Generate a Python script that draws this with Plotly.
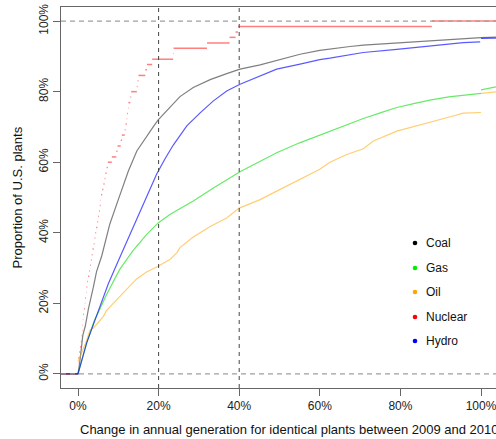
import plotly.graph_objects as go

# ---------------- data ----------------
series_names = ["Coal", "Gas", "Oil", "Nuclear", "Hydro"]

coal_x = [-0.06, 0.0, 0.004, 0.008, 0.012, 0.018, 0.026, 0.038, 0.046, 0.059, 0.071, 0.079,
          0.100, 0.125, 0.146, 0.170, 0.187, 0.199, 0.228, 0.253, 0.286, 0.328, 0.369, 0.402,
          0.452, 0.493, 0.551, 0.600, 0.625, 0.675, 0.708, 0.790, 0.873, 0.955, 1.000, 1.04]
coal_y = [0.0, 0.0, 0.03, 0.075, 0.11, 0.135, 0.185, 0.245, 0.29, 0.335, 0.39, 0.425,
          0.494, 0.575, 0.632, 0.674, 0.701, 0.72, 0.757, 0.786, 0.812, 0.834, 0.851, 0.864,
          0.876, 0.889, 0.906, 0.917, 0.921, 0.928, 0.932, 0.938, 0.944, 0.951, 0.953, 0.955]

gas_x = [-0.06, 0.0, 0.0215, 0.04, 0.063, 0.071, 0.096, 0.104, 0.137, 0.146, 0.170, 0.199,
         0.228, 0.286, 0.340, 0.402, 0.452, 0.493, 0.550, 0.625, 0.667, 0.708, 0.750, 0.791,
         0.833, 0.873, 0.920, 0.973, 1.0, None, 1.0, 1.02, 1.04]
gas_y = [0.0, 0.0, 0.087, 0.15, 0.205, 0.225, 0.28, 0.297, 0.35, 0.363, 0.395, 0.428,
         0.452, 0.49, 0.53, 0.573, 0.603, 0.627, 0.655, 0.688, 0.706, 0.724, 0.740, 0.755,
         0.766, 0.776, 0.785, 0.793, 0.795, None, 0.805, 0.809, 0.814]

oil_x = [-0.06, 0.0, None, 0.0, 0.01, 0.02, 0.03, 0.038, 0.05, 0.063, 0.071, 0.104, 0.121,
         0.146, 0.170, 0.199, 0.228, 0.245, 0.253, 0.286, 0.328, 0.369, 0.400, 0.452, 0.493,
         0.551, 0.600, 0.625, 0.667, 0.708, 0.733, 0.791, 0.873, 0.931, 0.956, 1.0, None, 1.0, 1.04]
oil_y = [0.0, 0.0, None, 0.035, 0.06, 0.09, 0.125, 0.13, 0.145, 0.163, 0.18, 0.22, 0.239,
         0.27, 0.289, 0.305, 0.324, 0.343, 0.358, 0.388, 0.418, 0.442, 0.47, 0.494, 0.518,
         0.551, 0.58, 0.60, 0.622, 0.638, 0.66, 0.688, 0.712, 0.731, 0.739, 0.741, None, 0.795, 0.7995]

hydro_x = [-0.06, 0.0, 0.0215, 0.03, 0.055, 0.075, 0.096, 0.121, 0.137, 0.162,
           0.195, 0.216, 0.236, 0.270, 0.303, 0.336, 0.369, 0.402, 0.452, 0.493,
           0.551, 0.600, 0.625, 0.708, 0.791, 0.873, 0.956, 0.998, None, 1.0, 1.04]
hydro_y = [0.0, 0.0, 0.088, 0.115, 0.195, 0.255, 0.31, 0.375, 0.415, 0.48,
           0.566, 0.61, 0.648, 0.703, 0.74, 0.774, 0.802, 0.821, 0.845, 0.864,
           0.878, 0.891, 0.895, 0.911, 0.92, 0.930, 0.939, 0.941, None, 0.951, 0.952]

# nuclear: step start positions and step levels (ECDF drawn without verticals)
nuclear_x = [0.0, 0.0, 0.001, 0.003, 0.005, 0.007, 0.009, 0.010, 0.011, 0.012, 0.013, 0.015,
             0.017, 0.018, 0.020, 0.021, 0.023, 0.025, 0.028, 0.030, 0.032, 0.034, 0.036, 0.039,
             0.041, 0.043, 0.045, 0.048, 0.050, 0.052, 0.054, 0.056, 0.057, 0.060, 0.063, 0.066,
             0.068, 0.071, 0.074, 0.084, 0.095, 0.098, 0.106, 0.109, 0.116, 0.118, 0.121, 0.122,
             0.124, 0.125, 0.130, 0.132, 0.146, 0.148, 0.150, 0.167, 0.171, 0.184, 0.236, 0.237,
             0.320, 0.376, 0.391, 0.397, 0.878]
nuclear_y = [0.015, 0.031, 0.046, 0.062, 0.077, 0.092, 0.108, 0.123, 0.138, 0.154, 0.169, 0.185,
             0.200, 0.215, 0.231, 0.246, 0.262, 0.277, 0.292, 0.308, 0.323, 0.338, 0.354, 0.369,
             0.385, 0.400, 0.415, 0.431, 0.446, 0.462, 0.477, 0.492, 0.508, 0.523, 0.538, 0.554,
             0.569, 0.585, 0.600, 0.615, 0.631, 0.646, 0.662, 0.677, 0.692, 0.708, 0.723, 0.738,
             0.754, 0.769, 0.785, 0.800, 0.815, 0.831, 0.846, 0.862, 0.877, 0.892, 0.908, 0.923,
             0.938, 0.954, 0.969, 0.985, 1.000]

x_ticks = [0, 0.2, 0.4, 0.6, 0.8, 1.0]
x_ticklabels = ["0%", "20%", "40%", "60%", "80%", "100%"]
y_ticks = [0, 0.2, 0.4, 0.6, 0.8, 1.0]
y_ticklabels = ["0%", "20%", "40%", "60%", "80%", "100%"]
ref_v = [0.2, 0.4]
ref_h = [0.0, 1.0]

# ---------------- styling ----------------
line_colors = {
    "Coal": "rgba(0,0,0,0.5)",
    "Gas": "rgba(0,220,0,0.6)",
    "Oil": "rgba(255,165,0,0.55)",
    "Nuclear": "rgba(255,0,0,0.5)",
    "Hydro": "rgba(0,0,255,0.65)",
}
dot_colors = {"Coal": "#000000", "Gas": "#00ee00", "Oil": "#ffa500",
              "Nuclear": "#ff0000", "Hydro": "#0000ff"}
FONT = "Liberation Sans, Arial, sans-serif"

W, H = 496, 439
ML, MT, MR, MB = 61, 7, 0, 51

fig = go.Figure()

data_map = {"Coal": (coal_x, coal_y), "Gas": (gas_x, gas_y), "Oil": (oil_x, oil_y)}
for name in ["Coal", "Gas", "Oil"]:
    xs, ys = data_map[name]
    fig.add_trace(go.Scatter(x=xs, y=ys, mode="lines", name=name, showlegend=False,
                             line=dict(color=line_colors[name], width=1.2), hoverinfo="skip"))

# nuclear: horizontal segments only
nx, ny = [-0.06, 0.0, None], [0.0, 0.0, None]
for i in range(len(nuclear_x)):
    x0 = nuclear_x[i]
    x1 = nuclear_x[i + 1] if i + 1 < len(nuclear_x) else 1.2
    nx += [x0, x1, None]
    ny += [nuclear_y[i], nuclear_y[i], None]
fig.add_trace(go.Scatter(x=nx, y=ny, mode="lines", name="Nuclear", showlegend=False,
                         line=dict(color=line_colors["Nuclear"], width=1.5), hoverinfo="skip"))

fig.add_trace(go.Scatter(x=hydro_x, y=hydro_y, mode="lines", name="Hydro", showlegend=False,
                         line=dict(color=line_colors["Hydro"], width=1.2), hoverinfo="skip"))

shapes = []
for v in ref_v:
    shapes.append(dict(type="line", xref="x", yref="paper", x0=v, x1=v, y0=0, y1=1,
                       line=dict(color="#444444", width=1, dash="4px,4px")))
for h in ref_h:
    shapes.append(dict(type="line", xref="paper", yref="y", x0=0, x1=1, y0=h, y1=h,
                       line=dict(color="#a0a0a0", width=1.2, dash="5px,4px")))

# legend (dots + labels)
annotations = []
pw, ph = W - ML - MR, H - MT - MB
leg_x_dot = (415 - ML) / pw
leg_x_txt = (424 - ML) / pw
leg_py = [243, 268, 292, 317, 341]
for name, py in zip(series_names, leg_py):
    yp = (H - MB - py) / ph
    shapes.append(dict(type="circle", xref="paper", yref="paper", xsizemode="pixel",
                       ysizemode="pixel", xanchor=leg_x_dot, yanchor=yp,
                       x0=-2.3, x1=2.3, y0=-2.3, y1=2.3,
                       fillcolor=dot_colors[name], line=dict(width=0)))
    annotations.append(dict(text=name, xref="paper", yref="paper", x=leg_x_txt, y=yp,
                            xanchor="left", yanchor="middle", showarrow=False,
                            font=dict(family=FONT, size=12, color="#111")))

annotations.append(dict(text="Change in annual generation for identical plants between 2009 and 2010",
                        xref="paper", yref="paper", x=(289.5 - ML) / pw, y=(H - MB - 429) / ph,
                        xanchor="center", yanchor="middle", showarrow=False,
                        font=dict(family=FONT, size=13, color="#111")))
annotations.append(dict(text="Proportion of U.S. plants", xref="paper", yref="paper",
                        x=(17 - ML) / pw, y=0.5, xanchor="center", yanchor="middle",
                        textangle=-90, showarrow=False,
                        font=dict(family=FONT, size=13, color="#111")))

axis_common = dict(showgrid=False, zeroline=False, showline=True, linecolor="#666666",
                   linewidth=1, ticks="outside", ticklen=7, tickcolor="#666666",
                   tickfont=dict(family=FONT, size=12, color="#222"))

fig.update_layout(
    width=W, height=H,
    margin=dict(l=ML, r=MR, t=MT, b=MB, pad=0),
    plot_bgcolor="white", paper_bgcolor="white",
    showlegend=False,
    xaxis=dict(range=[-17 / 403, 418 / 403], tickvals=x_ticks, ticktext=x_ticklabels,
               mirror=True, ticklabeloverflow="allow", **axis_common),
    yaxis=dict(range=[-0.04, 1.04], tickvals=y_ticks, ticktext=y_ticklabels,
               tickangle=-90, **axis_common),
    shapes=shapes,
    annotations=annotations,
)

fig.write_html("out.html")
